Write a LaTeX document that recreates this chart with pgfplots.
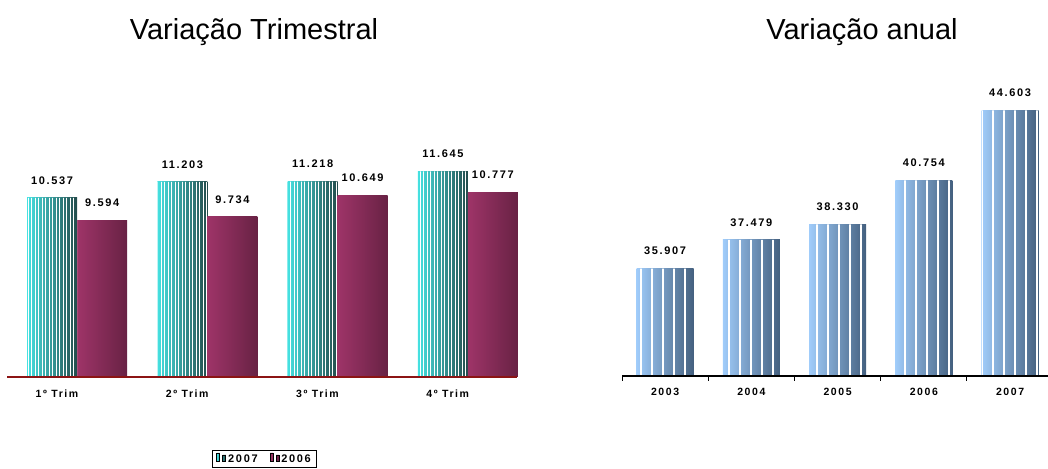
\documentclass[border=0pt]{standalone}
\usepackage{pgfplots}
\pgfplotsset{compat=1.18}
\usepackage{fontspec}
\setmainfont{Liberation Sans}
\newfontfamily\lblfont[LetterSpace=15]{Liberation Sans}
\usetikzlibrary{patterns.meta}
\definecolor{tealL}{RGB}{70,225,225}
\definecolor{tealM}{RGB}{80,160,160}
\definecolor{tealD}{RGB}{35,75,75}
\definecolor{magL}{RGB}{158,52,104}
\definecolor{magD}{RGB}{104,34,68}
\definecolor{bluL}{RGB}{160,204,250}
\definecolor{bluM}{RGB}{120,165,210}
\definecolor{bluD}{RGB}{68,96,127}
\definecolor{axred}{RGB}{140,20,20}
\pgfplotsset{
  tealbar/.style={draw=none, left color=tealL, middle color=tealM, right color=tealD, bar shift=-25pt},
  tealstripe/.style={draw=none, forget plot, bar shift=-25pt, pattern={Lines[angle=90,distance=3.5pt,line width=1pt]}, pattern color=white, fill opacity=0.5},
  magbar/.style={draw=none, left color=magL, right color=magD, bar shift=25pt},
  blubar/.style={draw=none, left color=bluL, middle color=bluM, right color=bluD, bar shift=0pt, forget plot},
  blustripe/.style={draw=none, forget plot, bar shift=0pt, pattern={Lines[angle=90,distance=11pt,line width=1.8pt,xshift=3pt]}, pattern color=white, fill opacity=0.5},
  lbl/.style={nodes near coords, nodes near coords style={font=\lblfont\bfseries\fontsize{11}{13}\selectfont, yshift=10pt}},
}
\begin{document}
\begin{tikzpicture}
\path[use as bounding box] (0,0) rectangle (1048pt,468pt);
\node[font=\fontsize{29}{32}\selectfont] at (254pt,436pt) {Variação Trimestral};
\node[font=\fontsize{29}{32}\selectfont] at (862pt,436pt) {Variação anual};
% left chart
\begin{axis}[
  at={(7pt,91pt)}, anchor=south west,
  scale only axis, width=510pt, height=214pt,
  xmin=0.4615, xmax=4.377, ymin=3000, ymax=12000,
  axis x line=bottom, axis y line=none, axis on top,
  x axis line style={draw=axred, line width=1.6pt, -},
  xtick={1,2,3,4}, xticklabels={1º Trim,2º Trim,3º Trim,4º Trim},
  major tick length=0pt,
  xticklabel style={font=\lblfont\bfseries\fontsize{10.5}{12}\selectfont, anchor=north west, xshift=-45pt, yshift=-9pt},
  ybar, bar width=50pt, clip=false,
  point meta=explicit symbolic,
  legend style={at={(0.402,-0.341)}, anchor=north west, legend columns=2,
    font=\lblfont\bfseries\fontsize{11}{13}\selectfont, draw=black, line width=0.8pt,
    inner xsep=4pt, inner ysep=2pt, /tikz/every even column/.append style={column sep=10pt}},
]
\addplot[tealbar, lbl] coordinates {(1,10537)[10.537]};
\addplot[magbar, lbl] coordinates {(1,9594)[9.594]};
\legend{2007,2006}
\addplot[tealbar, lbl, forget plot] coordinates {(2,11203)[11.203]};
\addplot[tealbar, lbl, forget plot] coordinates {(3,11218)[11.218]};
\addplot[tealbar, lbl, forget plot] coordinates {(4,11645)[11.645]};
\addplot[magbar, lbl, forget plot] coordinates {(2,9734)[9.734]};
\addplot[magbar, lbl, forget plot] coordinates {(3,10649)[10.649]};
\addplot[magbar, lbl, forget plot] coordinates {(4,10777)[10.777]};
\addplot[tealstripe] coordinates {(1,10537) (2,11203) (3,11218) (4,11645)};
\end{axis}
% right chart
\begin{axis}[
  at={(622pt,92pt)}, anchor=south west,
  scale only axis, width=426pt, height=291pt,
  xmin=0.5, xmax=5.44, ymin=30000, ymax=46000,
  axis x line=bottom, axis y line=none, axis on top,
  x axis line style={draw=black, line width=2.6pt, -},
  xtick={1,2,3,4,5}, xticklabels={2003,2004,2005,2006,2007},
  major tick length=0pt,
  extra x ticks={0.5,1.5,2.5,3.5,4.5}, extra x tick labels={},
  extra x tick style={major tick length=5pt, tick align=outside, tick style={draw=black, line width=1pt}},
  xticklabel style={font=\lblfont\bfseries\fontsize{10.5}{12}\selectfont, yshift=-9pt},
  ybar, bar width=57pt, clip=false,
  point meta=explicit symbolic,
]
\addplot[blubar, lbl] coordinates {(1,35907)[35.907]};
\addplot[blubar, lbl] coordinates {(2,37479)[37.479]};
\addplot[blubar, lbl] coordinates {(3,38330)[38.330]};
\addplot[blubar, lbl] coordinates {(4,40754)[40.754]};
\addplot[blubar, lbl] coordinates {(5,44603)[44.603]};
\addplot[blustripe] coordinates {(1,35907) (2,37479) (3,38330) (4,40754) (5,44603)};
\end{axis}
\end{tikzpicture}
\end{document}
